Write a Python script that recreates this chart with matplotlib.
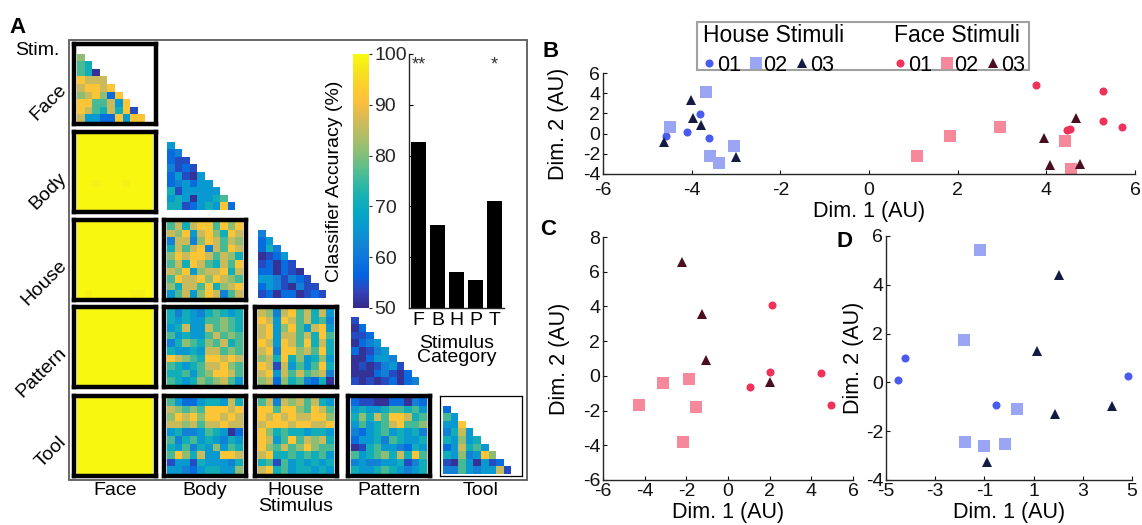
import numpy as np
import matplotlib
matplotlib.use("Agg")
import matplotlib.pyplot as plt
from matplotlib.colors import LinearSegmentedColormap, Normalize
from matplotlib.cm import ScalarMappable
from matplotlib.lines import Line2D
from matplotlib.patches import Rectangle

plt.rcParams['font.family'] = ['Liberation Sans', 'DejaVu Sans']
plt.rcParams['axes.unicode_minus'] = False

# ---------------- data ----------------
CATEGORIES = ['Face', 'Body', 'House', 'Pattern', 'Tool']
BAR_LABELS = ['F', 'B', 'H', 'P', 'T']
BAR_VALUES = [82.7, 66.3, 57.1, 55.6, 71.1]
BAR_STARS = ['**', '', '', '', '*']
CBAR_TICKS = [50, 60, 70, 80, 90, 100]

# colour-level codes (accuracy %)
LEVELS = {'0': 51, '1': 54, '2': 58, '3': 62, '4': 66, '5': 71, '6': 76,
          '7': 81, '8': 86, '9': 92, 'x': 98.5, 'y': 99.5}

# within-category (lower triangle, row i has i pairs)
TRI_FACE = ["", "7", "65", "650", "9888", "89989", "789729", "9966849", "98658591", "844229499"]
TRI_BODY = ["", "4", "23", "211", "3121", "24104", "234244", "5144444", "45404456", "551245492"]
TRI_HOUSE = ["", "3", "24", "253", "0124", "12021", "220210", "4431321", "24310311", "120220121"]
TRI_PATTERN = ["", "1", "02", "112", "0234", "20134", "002443", "0101341", "00023102", "101012023"]
TRI_TOOL = ["", "2", "64", "449", "3584", "54745", "248564", "5473497", "10640412", "336434481"]

# between-category matrices (row category x column category)
M_BODY_FACE = ["yyyyyyyyyy", "yyyyyyyyyy", "yyyyyyyyyy", "yyyyyyyyyy", "yyyyyyyyyy",
               "yyyyyyyyyy", "yyxyyyxyyy", "yyyyyyyyyy", "yyyyyyyyyy", "yyyyyyyyyy"]
M_HOUSE_FACE = ["yyyyyyyyyy", "yyyyyyyyyy", "yyyyyyyyyy", "yyyyyyyyyy", "yyyyyyyyyy",
                "yyyyyyyyyy", "yyyyyyyyyy", "yyyyyyyyyy", "yyyyyyyyyy", "yxyyyyyxxy"]
M_PATTERN_FACE = ["yyyyyyyyyy", "yyyyyyyyyy", "yyyyyyyyyy", "yyyyyyyyyy", "yyyyyyyyyy",
                  "yyyyyyyyyy", "yyyyyyyyyy", "yyyyyyyyyy", "yyyyyyyyyy", "yyyyyyyyyy"]
M_TOOL_FACE = ["yyyyyyyyyy", "yyyyyyyyyy", "yyyyyyyyyy", "yyyyyyyyyy", "yyyyyyyyyy",
               "yyyyyyyyyy", "yyyyyyyyyy", "yyyyyyyyyy", "yyyyyyyyyy", "yyyyyyyyyy"]
M_HOUSE_BODY = ["6858996979", "8794897598", "3883798687", "5868938698", "7989986875",
                "6859865869", "8794788958", "6988979876", "7588695789", "4684798368"]
M_PATTERN_BODY = ["5354356545", "5454466765", "4584486765", "6454468676", "3576576856",
                  "5445488676", "9876599898", "6545688976", "5564679986", "6545767864"]
M_PATTERN_HOUSE = ["8738968584", "9849868563", "8947964894", "8948868596", "9849869585",
                   "8939978695", "7859574574", "9818464695", "8948686783", "7827563250"]
M_TOOL_BODY = ["6422455485", "8767699989", "7989799898", "8878688988", "4533465402",
               "6356454354", "5463547465", "6975844998", "1441544435", "4432455447"]
M_TOOL_HOUSE = ["6838786854", "9969976986", "9898988997", "8999899889", "9756554554",
                "9846968785", "9768679766", "8955656564", "5616454545", "8956455454"]
M_TOOL_PATTERN = ["2110022032", "4544566564", "5758699856", "4645689667", "3245645453",
                  "2445365445", "0156443254", "6456758596", "3433445135", "5445654345"]

# MDS panels: (x values, y values)
B_HOUSE_01 = ([-4.57, -4.11, -3.81, -3.61], [-0.27, 0.16, 1.97, -0.47])
B_HOUSE_02 = ([-3.68, -4.49, -3.05, -3.58, -3.38], [4.12, 0.62, -1.19, -2.25, -2.91])
B_HOUSE_03 = ([-4.02, -3.98, -3.79, -4.63, -3.00], [3.36, 1.54, 0.88, -0.83, -2.32])
B_FACE_01 = ([3.76, 5.27, 5.27, 5.71, 4.47, 4.53], [4.85, 4.25, 1.28, 0.62, 0.36, 0.42])
B_FACE_02 = ([1.08, 1.83, 2.95, 4.41, 4.56], [-2.25, -0.20, 0.62, -0.77, -3.50])
B_FACE_03 = ([3.95, 4.67, 4.08, 4.77], [-0.44, 1.54, -3.14, -2.98])

C_FACE_01 = ([2.11, 2.03, 1.06, 4.46, 4.93], [4.10, 0.21, -0.67, 0.19, -1.69])
C_FACE_02 = ([-1.86, -3.10, -4.26, -1.55, -2.14], [-0.17, -0.42, -1.67, -1.77, -3.79])
C_FACE_03 = ([-2.19, -1.25, -1.04, 2.00], [6.56, 3.58, 0.92, -0.37])

D_HOUSE_01 = ([-4.23, -4.50, 4.82, -0.52], [1.00, 0.11, 0.27, -0.94])
D_HOUSE_02 = ([-1.16, -1.81, 0.32, -1.77, -1.00, -0.17], [5.42, 1.72, -1.09, -2.44, -2.62, -2.52])
D_HOUSE_03 = ([2.04, 1.15, 1.88, 4.19, -0.88], [4.41, 1.27, -1.30, -0.98, -3.27])

# ---------------- styles ----------------
PARULA = [(0.2081, 0.1663, 0.5292), (0.1959, 0.2645, 0.7279), (0.0117, 0.3875, 0.8820),
          (0.0498, 0.4586, 0.8641), (0.0793, 0.5200, 0.8312), (0.0343, 0.5966, 0.8199),
          (0.0228, 0.6535, 0.7768), (0.0843, 0.6928, 0.7062), (0.2178, 0.7250, 0.6193),
          (0.3953, 0.7459, 0.5244), (0.5709, 0.7485, 0.4494), (0.7184, 0.7411, 0.3905),
          (0.8507, 0.7299, 0.3360), (0.9938, 0.7455, 0.2403), (0.9880, 0.8066, 0.1794),
          (0.9589, 0.8949, 0.1132), (0.9763, 0.9831, 0.0538)]
cmap = LinearSegmentedColormap.from_list('parula', PARULA)
cmap.set_bad((1, 1, 1, 0))
norm = Normalize(50, 100)

COL_H1, COL_H2, COL_H3 = '#4a5cf0', '#9aa6f3', '#141a42'
COL_F1, COL_F2, COL_F3 = '#ef3259', '#f5889a', '#4a0e1f'
MS_O, MS_S, MS_T = 5.8, 8.0, 7.3
TICK_FS, LABEL_FS = 14, 15.5
SPINE_C = '#262626'

W, H = 1142, 525
fig = plt.figure(figsize=(W / 100, H / 100), dpi=100)


def px_axes(x0, y0, x1, y1, **kw):
    return fig.add_axes([x0 / W, 1 - y1 / H, (x1 - x0) / W, (y1 - y0) / H], **kw)


def ftext(x, y, s, **kw):
    return fig.text(x / W, 1 - y / H, s, **kw)


def decode_full(rows):
    return np.array([[LEVELS[ch] for ch in row] for row in rows], dtype=float)


def decode_tri(rows):
    n = len(rows)
    m = np.full((n, n), np.nan)
    for i, row in enumerate(rows):
        for j, ch in enumerate(row):
            m[i, j] = LEVELS[ch]
    return m


TRIS = [TRI_FACE, TRI_BODY, TRI_HOUSE, TRI_PATTERN, TRI_TOOL]
OFF = {(1, 0): M_BODY_FACE, (2, 0): M_HOUSE_FACE, (3, 0): M_PATTERN_FACE, (4, 0): M_TOOL_FACE,
       (2, 1): M_HOUSE_BODY, (3, 1): M_PATTERN_BODY, (4, 1): M_TOOL_BODY,
       (3, 2): M_PATTERN_HOUSE, (4, 2): M_TOOL_HOUSE, (4, 3): M_TOOL_PATTERN}

# ---------------- panel A ----------------
COL_L = [72, 162, 253, 346, 438]
ROW_T = [42, 130, 218, 305, 394]
CW, CH = 86, 84

fig.patches.append(Rectangle((69 / W, 1 - 480 / H), (527 - 69) / W, (480 - 40) / H,
                             transform=fig.transFigure, fill=False, edgecolor='#5a5a5a',
                             linewidth=1.3, zorder=0))

for r in range(5):
    for c in range(r + 1):
        ax = px_axes(COL_L[c] + 2, ROW_T[r] + 2, COL_L[c] + CW - 2, ROW_T[r] + CH - 2)
        if r == c:
            mat = decode_tri(TRIS[r])
        else:
            mat = decode_full(OFF[(r, c)])
        ax.imshow(mat, cmap=cmap, norm=norm, interpolation='nearest', aspect='auto')
        ax.set_xlim(-0.5 - 0.4, 9.5 + 0.4)
        ax.set_ylim(9.5 + 0.3, -0.5 - 0.3)
        ax.set_xticks([])
        ax.set_yticks([])
        if r == c and r not in (0, 4):
            for s in ax.spines.values():
                s.set_visible(False)
        else:
            lw = 0.9 if (r == c == 4) else 3.2
            for s in ax.spines.values():
                s.set_linewidth(lw)
                s.set_color('black')

ftext(15, 55, 'Stim.', fontsize=14, ha='left', va='baseline')
for r, name in enumerate(CATEGORIES):
    ftext(64, ROW_T[r] + CH / 2 + 3, name, fontsize=14, rotation=45, rotation_mode='anchor',
          ha='right', va='center')
BOTTOM_NAMES = ['Face', 'Body', 'House\nStimulus', 'Pattern', 'Tool']
for c, name in enumerate(BOTTOM_NAMES):
    ftext(COL_L[c] + CW / 2, 482, name, fontsize=14, ha='center', va='top', linespacing=0.9)

# colorbar
cax = px_axes(353, 54, 369, 308)
cb = fig.colorbar(ScalarMappable(norm=norm, cmap=cmap), cax=cax)
cb.outline.set_visible(False)
cb.set_ticks(CBAR_TICKS)
cax.tick_params(labelsize=TICK_FS, length=2, width=0.8, pad=2, colors='#262626')
cax.yaxis.set_ticks_position('right')
cax.yaxis.set_label_position('left')
cb.set_label('Classifier Accuracy (%)', fontsize=14, labelpad=7)

# bar inset
bax = px_axes(409, 54, 504, 308)
xs = np.arange(1, len(BAR_VALUES) + 1)
bax.bar(xs, BAR_VALUES, width=0.8, color='black')
bax.set_xlim(0.5, 5.5)
bax.set_ylim(50, 100)
bax.set_yticks(CBAR_TICKS[1:])
bax.set_yticklabels([])
bax.set_xticks(xs)
bax.set_xticklabels(BAR_LABELS, fontsize=TICK_FS)
bax.tick_params(axis='y', direction='in', length=3, width=0.8)
bax.tick_params(axis='x', length=0, pad=3)
bax.spines['top'].set_visible(False)
bax.spines['right'].set_visible(False)
for sp in ('left', 'bottom'):
    bax.spines[sp].set_color(SPINE_C)
    bax.spines[sp].set_linewidth(1.0)
bax.set_facecolor('none')
bax.set_xlabel('Stimulus\nCategory', fontsize=14, linespacing=0.8, labelpad=4)
for x, s in zip(xs, BAR_STARS):
    if s:
        bax.text(x, 99.5, s, ha='center', va='top', fontsize=13, color='#333333')


# ---------------- scatter panels ----------------
def style_scatter(ax, xlim, ylim, xt, yt, xpad, xlpad, ylpad):
    ax.set_xlim(*xlim)
    ax.set_ylim(*ylim)
    ax.set_xticks(xt)
    ax.set_yticks(yt)
    ax.tick_params(direction='in', length=3, width=0.8, labelsize=TICK_FS, pad=2, colors='#111111')
    ax.tick_params(axis='x', pad=xpad)
    ax.spines['top'].set_visible(False)
    ax.spines['right'].set_visible(False)
    for sp in ('left', 'bottom'):
        ax.spines[sp].set_color(SPINE_C)
        ax.spines[sp].set_linewidth(1.0)
    ax.set_facecolor('none')
    ax.set_xlabel('Dim. 1 (AU)', fontsize=LABEL_FS, labelpad=xlpad)
    ax.set_ylabel('Dim. 2 (AU)', fontsize=LABEL_FS, labelpad=ylpad)


def pts(ax, d, marker, color, ms):
    ax.plot(d[0], d[1], linestyle='none', marker=marker, color=color, markersize=ms,
            markeredgewidth=0, clip_on=False)


axB = px_axes(603, 73, 1135, 174)
for d, m, col, ms in [(B_HOUSE_01, 'o', COL_H1, MS_O), (B_HOUSE_02, 's', COL_H2, MS_S),
                      (B_HOUSE_03, '^', COL_H3, MS_T), (B_FACE_01, 'o', COL_F1, MS_O),
                      (B_FACE_02, 's', COL_F2, MS_S), (B_FACE_03, '^', COL_F3, MS_T)]:
    pts(axB, d, m, col, ms)
style_scatter(axB, (-6, 6), (-4, 6), np.arange(-6, 7, 2), np.arange(-4, 7, 2),
              xpad=5.5, xlpad=1.5, ylpad=10)

axC = px_axes(603, 237, 853, 480)
for d, m, col, ms in [(C_FACE_01, 'o', COL_F1, MS_O), (C_FACE_02, 's', COL_F2, MS_S),
                      (C_FACE_03, '^', COL_F3, MS_T)]:
    pts(axC, d, m, col, ms)
style_scatter(axC, (-6, 6), (-6, 8), np.arange(-6, 7, 2), np.arange(-6, 9, 2),
              xpad=2, xlpad=1.5, ylpad=9)

axD = px_axes(886, 236, 1132, 480)
for d, m, col, ms in [(D_HOUSE_01, 'o', COL_H1, MS_O), (D_HOUSE_02, 's', COL_H2, MS_S),
                      (D_HOUSE_03, '^', COL_H3, MS_T)]:
    pts(axD, d, m, col, ms)
style_scatter(axD, (-5, 5), (-4, 6), np.arange(-5, 6, 2), np.arange(-4, 7, 2),
              xpad=2, xlpad=1.5, ylpad=1)

# legend
fig.patches.append(Rectangle((697 / W, 1 - 70 / H), (1029 - 697) / W, (70 - 22) / H,
                             transform=fig.transFigure, facecolor='white', edgecolor='#a0a0a0',
                             linewidth=1.5, zorder=0))


def handles(c1, c2, c3):
    return [Line2D([], [], linestyle='none', marker='o', color=c1, markersize=MS_O, markeredgewidth=0),
            Line2D([], [], linestyle='none', marker='s', color=c2, markersize=MS_S, markeredgewidth=0),
            Line2D([], [], linestyle='none', marker='^', color=c3, markersize=MS_T, markeredgewidth=0)]


LEG_KW = dict(ncol=3, frameon=False, loc='upper left', alignment='left', handlelength=0.55,
              handletextpad=0.1, columnspacing=0.4, borderpad=0, borderaxespad=0,
              fontsize=15.5, title_fontsize=16.5, labelspacing=0.35)
fig.legend(handles(COL_H1, COL_H2, COL_H3), ['01', '02', '03'], title='House Stimuli',
           bbox_to_anchor=(703 / W, 1 - 24 / H), **LEG_KW)
fig.legend(handles(COL_F1, COL_F2, COL_F3), ['01', '02', '03'], title='Face Stimuli',
           bbox_to_anchor=(894 / W, 1 - 24 / H), **LEG_KW)

# panel letters
for lx, ly, s in [(9, 33, 'A'), (543, 57, 'B'), (540, 235, 'C'), (836, 247, 'D')]:
    ftext(lx, ly, s, fontsize=16, fontweight='bold', ha='left', va='baseline')

fig.savefig('out.png', dpi=100)
